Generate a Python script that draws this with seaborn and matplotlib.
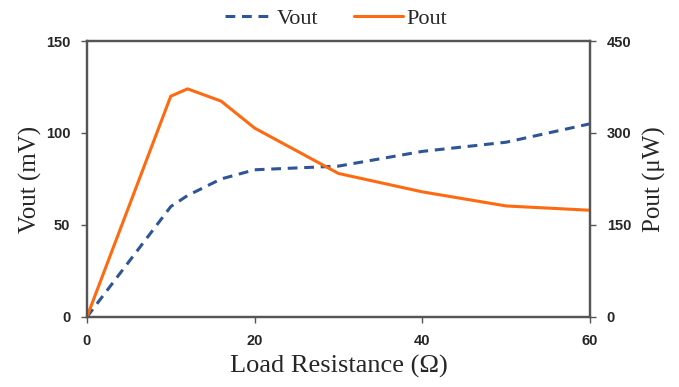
import matplotlib
matplotlib.use("Agg")
import matplotlib.pyplot as plt
import seaborn as sns
import pandas as pd
from matplotlib.lines import Line2D
from matplotlib.font_manager import FontProperties

# data
resistance = [0, 10, 12, 16, 20, 30, 40, 50, 60]
vout_mv = [0, 60, 66, 75, 80, 82, 90, 95, 105]
pout_uw = [0, 360, 372, 352, 308, 234, 204, 181, 174]
x_ticks = [0, 20, 40, 60]
left_ticks = [0, 50, 100, 150]
right_ticks = [0, 150, 300, 450]

sns.set_style("white")
plt.rcParams['font.family'] = ['Liberation Serif', 'DejaVu Serif']

df = pd.DataFrame({"R": resistance, "V": vout_mv, "P": pout_uw})

fig = plt.figure(figsize=(6.79, 3.87), dpi=100)
ax = fig.add_axes([0.128, 0.181, 0.741, 0.713])
ax2 = ax.twinx()

blue = "#2F5597"
orange = "#FF6A10"

sns.lineplot(data=df, x="R", y="V", ax=ax, color=blue, linewidth=2.2,
             linestyle=(0, (3.2, 2.2)), legend=False)
sns.lineplot(data=df, x="R", y="P", ax=ax2, color=orange, linewidth=2.2,
             legend=False)

ax.set_xlim(0, 60)
ax.set_ylim(0, 150)
ax2.set_ylim(0, 450)
ax.set_xticks(x_ticks)
ax.set_yticks(left_ticks)
ax2.set_yticks(right_ticks)

tick_fp = FontProperties(family=['Liberation Sans Narrow', 'DejaVu Sans Condensed',
                                 'Liberation Sans', 'DejaVu Sans'],
                         weight='bold', size=10.5)
for a in (ax, ax2):
    for lab in a.get_xticklabels() + a.get_yticklabels():
        lab.set_fontproperties(tick_fp)
    for sp in a.spines.values():
        sp.set_color("#555555")
        sp.set_linewidth(1.6)

ax.tick_params(axis='both', which='both', direction='out', length=4, width=1,
               color="#555555", left=True, bottom=True, pad=8)
ax2.tick_params(axis='y', direction='out', length=4, width=1, color="#555555",
                right=True, pad=8)

ax.set_xlabel("Load Resistance (Ω)", fontsize=19, labelpad=5)
ax.set_ylabel("Vout (mV)", fontsize=18, labelpad=3)
ax2.set_ylabel("Pout (μW)", fontsize=18, labelpad=8)

handles = [Line2D([0], [0], color=blue, lw=2.2, linestyle=(0, (3.2, 2.2))),
           Line2D([0], [0], color=orange, lw=2.2)]
fig.legend(handles, ["Vout", "Pout"], loc="center", bbox_to_anchor=(0.495, 0.952),
           ncol=2, frameon=False, fontsize=16, handlelength=2.2,
           handletextpad=0.15, columnspacing=1.6)

fig.savefig("out.png", dpi=100)
